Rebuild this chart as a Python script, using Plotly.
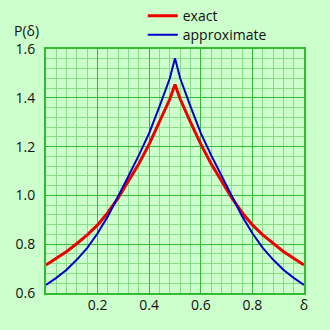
import plotly.graph_objects as go

delta = [0.00, 0.04, 0.08, 0.12, 0.16, 0.20, 0.24, 0.28, 0.32, 0.36, 0.40, 0.44, 0.48, 0.50,
         0.52, 0.56, 0.60, 0.64, 0.68, 0.72, 0.76, 0.80, 0.84, 0.88, 0.92, 0.96, 1.00]
exact = [0.715, 0.742, 0.770, 0.803, 0.838, 0.879, 0.930, 0.990, 1.060, 1.130, 1.210, 1.300, 1.395, 1.455,
         1.395, 1.300, 1.210, 1.130, 1.060, 0.990, 0.930, 0.879, 0.838, 0.803, 0.770, 0.742, 0.715]
approx = [0.633, 0.662, 0.695, 0.737, 0.785, 0.845, 0.915, 0.995, 1.080, 1.165, 1.255, 1.365, 1.480, 1.562,
          1.480, 1.365, 1.255, 1.165, 1.080, 0.995, 0.915, 0.845, 0.785, 0.737, 0.695, 0.662, 0.633]

x_tickvals = [0.2, 0.4, 0.6, 0.8, 1.0]
x_ticktext = ["0.2", "0.4", "0.6", "0.8", "δ"]
y_tickvals = [0.6, 0.8, 1.0, 1.2, 1.4, 1.6]
y_ticktext = ["0.6", "0.8", "1.0", "1.2", "1.4", "1.6"]

bg = "#ccffcc"
major = "#33bb33"
minor = "#88dd88"
font = "Open Sans"

fig = go.Figure()
fig.add_trace(go.Scatter(x=delta, y=exact, mode="lines", name="exact",
                         line=dict(color="#ee0000", width=3), legend="legend"))
fig.add_trace(go.Scatter(x=delta, y=approx, mode="lines", name="approximate",
                         line=dict(color="#0000cc", width=2), legend="legend2"))

leg_common = dict(xanchor="left", yanchor="middle", bgcolor="rgba(0,0,0,0)",
                  font=dict(size=14, color="#111111"), itemwidth=30)
fig.update_layout(
    width=330, height=330,
    margin=dict(l=46, r=26, t=49, b=37, autoexpand=False),
    paper_bgcolor=bg, plot_bgcolor=bg,
    font=dict(family=font, size=14, color="#111111"),
    showlegend=True,
    legend=dict(x=0.375, y=1.135, **leg_common),
    legend2=dict(x=0.375, y=1.057, **leg_common),
)
fig.update_xaxes(range=[0, 1], tickvals=x_tickvals, ticktext=x_ticktext,
                 showgrid=True, gridcolor=major, gridwidth=1,
                 minor=dict(dtick=0.04, showgrid=True, gridcolor=minor, gridwidth=1),
                 showline=True, linecolor=major, linewidth=2, mirror=True,
                 zeroline=False, ticks="", ticklabelstandoff=-2)
fig.update_yaxes(range=[0.6, 1.6], tickvals=y_tickvals, ticktext=y_ticktext,
                 showgrid=True, gridcolor=major, gridwidth=1,
                 minor=dict(dtick=0.04, tick0=0.6, showgrid=True, gridcolor=minor, gridwidth=1),
                 showline=True, linecolor=major, linewidth=2, mirror=True,
                 zeroline=False, ticks="", ticklabelstandoff=6)
fig.add_annotation(text="P(δ)", xref="paper", yref="paper", x=-0.13, y=1.075,
                   xanchor="left", yanchor="middle", showarrow=False,
                   font=dict(family=font, size=14, color="#111111"))

fig.write_html("out.html")
